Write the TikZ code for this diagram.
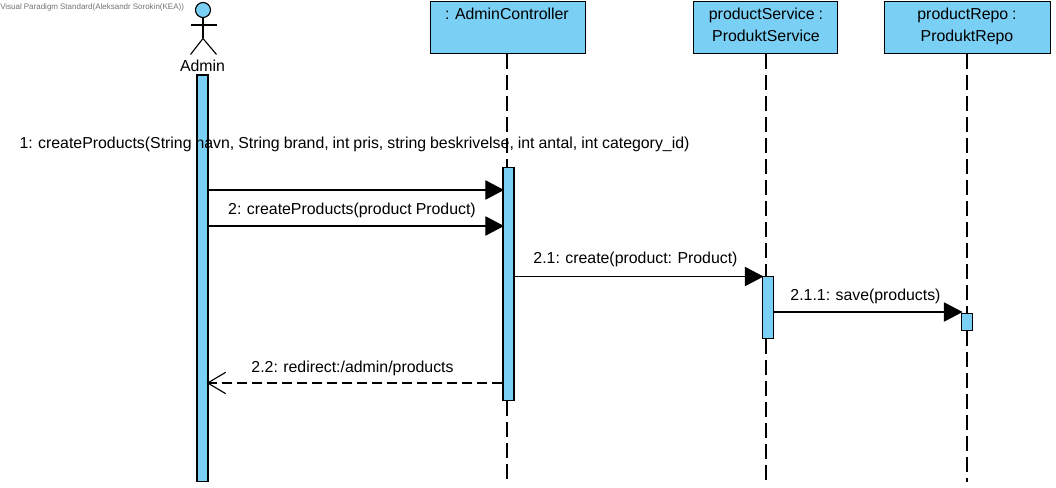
\documentclass[tikz,border=0pt]{standalone}
\usepackage{fontspec}
\setmainfont[WordSpace=0.9]{Liberation Sans}
\usetikzlibrary{arrows.meta}
\definecolor{vpblue}{HTML}{7ACFF5}
\tikzset{
  px/.style={x=0.75pt,y=-0.75pt},
  box/.style={draw=black,fill=vpblue,line width=0.85pt,inner sep=0pt,anchor=north west},
  actbar/.style={draw=black,fill=vpblue,line width=0.85pt,inner sep=0pt,minimum width=8.25pt,anchor=north},
  lifeline/.style={draw=black,line width=0.85pt,dash pattern=on 11.25pt off 4.5pt},
  msg/.style={draw=black,line width=0.85pt,shorten >=-1.2pt,-{Triangle[length=14pt,width=14.5pt]}},
  ret/.style={draw=black,line width=0.85pt,dash pattern=on 7.5pt off 3.75pt,shorten >=-1.5pt,-{Straight Barb[length=13.5pt,width=16pt,line width=0.85pt]}},
  lbl/.style={inner sep=0pt,font=\fontsize{11.9}{14}\selectfont},
  stick/.style={draw=black,line width=0.85pt},
}
\begin{document}
\begin{tikzpicture}[px]
\useasboundingbox[fill=white] (0,0) rectangle (1056,488);
% boxes
\node[box,minimum width=116.25pt,minimum height=39pt] (ac) at (430,1) {};
\node[lbl,anchor=base] (actext) at (507,19.5) {: AdminController};
\node[box,minimum width=108pt,minimum height=39pt] (ps) at (692.5,1) {};
\node[lbl,anchor=base] (pstext1) at (766,20) {productService :};
\node[lbl,anchor=base] (pstext2) at (766,42) {ProduktService};
\node[box,minimum width=124.5pt,minimum height=39pt] (pr) at (884,1) {};
\node[lbl,anchor=base] (prtext1) at (967,20) {productRepo :};
\node[lbl,anchor=base] (prtext2) at (967,42) {ProduktRepo};
% activation bars
\node[actbar,minimum height=304.5pt] (aa) at (202.5,74.5) {};
\node[actbar,minimum height=174.75pt] (aca) at (508.5,167) {};
\node[actbar,minimum height=46.5pt] (psa) at (768,276) {};
\node[actbar,minimum height=12.75pt] (pra) at (967,312.5) {};
% lifelines
\coordinate (acend) at (507,482);
\coordinate (psend) at (766,482);
\coordinate (prend) at (967,482);
\path[lifeline] (ac.south -| actext) -- (aca.north -| actext);
\path[lifeline] (aca.south -| actext) -- (acend);
\path[lifeline] (ps.south -| pstext1) -- (psa.north -| pstext1);
\path[lifeline] (psa.south -| pstext1) -- (psend);
\path[lifeline] (pr.south -| prtext1) -- (pra.north -| prtext1);
\path[lifeline] (pra.south -| prtext1) -- (prend);
% actor
\node[draw=black,fill=vpblue,circle,line width=0.85pt,minimum size=11.25pt,inner sep=0pt] (head) at (203,10) {};
\coordinate (armL) at (190.5,25);
\coordinate (armR) at (216.5,25);
\coordinate (hip) at (203,38.5);
\coordinate (legL) at (190.5,54.5);
\coordinate (legR) at (216.5,54.5);
\draw[stick] (head.south) -- (hip);
\draw[stick] (armL) -- (armR);
\draw[stick] (legL) -- (hip) -- (legR);
\node[lbl,anchor=base] (adminlbl) at (202.5,71.5) {Admin};
% watermark
\node[inner sep=0pt,anchor=base west,text=black!55,font=\fontsize{6}{7}\selectfont] (wm) at (0,10) {Visual Paradigm Standard(Aleksandr Sorokin(KEA))};
% messages
\coordinate (m1s) at (aa.east |- 0,190);
\coordinate (m1e) at (aca.west |- 0,190);
\coordinate (m2s) at (aa.east |- 0,226);
\coordinate (m2e) at (aca.west |- 0,226);
\coordinate (m3s) at (aca.east |- 0,276.5);
\coordinate (m3e) at (psa.west |- 0,276.5);
\coordinate (m4s) at (psa.east |- 0,312);
\coordinate (m4e) at (pra.west |- 0,312);
\coordinate (m5s) at (aca.west |- 0,383);
\coordinate (m5e) at (aa.east |- 0,383);
\draw[msg] (m1s) -- (m1e);
\draw[msg] (m2s) -- (m2e);
\draw[msg] (m3s) -- (m3e);
\draw[msg] (m4s) -- (m4e);
\draw[ret] (m5s) -- (m5e);
% labels
\node[lbl,anchor=base] (l1) at (354.5,148.5) {1: createProducts(String navn, String brand, int pris, string beskrivelse, int antal, int category\_id)};
\node[lbl,anchor=base] (l2) at (352,214.5) {2: createProducts(product Product)};
\node[lbl,anchor=base] (l3) at (635.5,263.5) {2.1: create(product: Product)};
\node[lbl,anchor=base] (l4) at (865.5,300.5) {2.1.1: save(products)};
\node[lbl,anchor=base] (l5) at (352.5,372.5) {2.2: redirect:/admin/products};
\end{tikzpicture}
\end{document}
